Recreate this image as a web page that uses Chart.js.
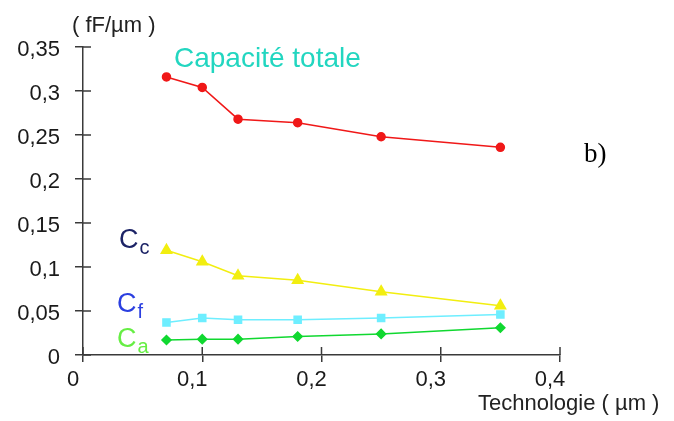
<!DOCTYPE html>
<html>
<head>
<meta charset="utf-8">
<script src="https://cdn.jsdelivr.net/npm/chart.js@4"></script>
<style>
html,body{margin:0;padding:0;background:#fff;}
#wrap{width:674px;height:421px;}
</style>
</head>
<body>
<div id="wrap"><canvas id="c" width="674" height="421"></canvas></div>
<script>
const technology = [0.07, 0.1, 0.13, 0.18, 0.25, 0.35];
const capaciteTotale = [0.316, 0.304, 0.268, 0.264, 0.248, 0.236];
const capaciteCc = [0.119, 0.106, 0.090, 0.085, 0.072, 0.056];
const capaciteCf = [0.037, 0.042, 0.040, 0.040, 0.042, 0.046];
const capaciteCa = [0.017, 0.018, 0.018, 0.021, 0.024, 0.031];

const xTickValues = [0, 0.1, 0.2, 0.3, 0.4];
const xTickLabels = ['0', '0,1', '0,2', '0,3', '0,4'];
const yTickValues = [0, 0.05, 0.1, 0.15, 0.2, 0.25, 0.3, 0.35];
const yTickLabels = ['0', '0,05', '0,1', '0,15', '0,2', '0,25', '0,3', '0,35'];

const toPoints = ys => technology.map((x, i) => ({x: x, y: ys[i]}));
const AXIS = '#3a3a3a';

const decor = {
  id: 'decor',
  afterDraw(chart) {
    const ctx = chart.ctx;
    const xs = chart.scales.x, ys = chart.scales.y;
    ctx.save();
    ctx.strokeStyle = AXIS;
    ctx.lineWidth = 1.5;
    yTickValues.forEach(v => {
      const p = ys.getPixelForValue(v);
      ctx.beginPath(); ctx.moveTo(xs.left, p); ctx.lineTo(xs.left + 8, p); ctx.stroke();
    });
    xTickValues.forEach(v => {
      const p = xs.getPixelForValue(v);
      ctx.beginPath(); ctx.moveTo(p, ys.bottom); ctx.lineTo(p, ys.bottom - 8); ctx.stroke();
    });
    ctx.textBaseline = 'alphabetic';
    ctx.textAlign = 'left';
    ctx.fillStyle = '#222';
    ctx.font = '22px "Liberation Sans", Arial, sans-serif';
    ctx.fillText('( fF/µm )', 72, 32);
    ctx.font = '22px "Liberation Sans", Arial, sans-serif';
    ctx.fillText('Technologie ( µm )', 478, 410);
    ctx.fillStyle = '#22d6c0';
    ctx.font = '28px "Liberation Sans", Arial, sans-serif';
    ctx.fillText('Capacité totale', 174, 67);
    ctx.fillStyle = '#000';
    ctx.font = '27px "Liberation Serif", "Times New Roman", serif';
    ctx.fillText('b)', 584, 162);
    const sub = (main, s, color, x, y, sy) => {
      ctx.fillStyle = color;
      ctx.font = '27px "Liberation Sans", Arial, sans-serif';
      ctx.fillText(main, x, y);
      const w = ctx.measureText(main).width;
      ctx.font = '20px "Liberation Sans", Arial, sans-serif';
      ctx.fillText(s, x + w + 1, sy);
    };
    sub('C', 'c', '#1c2366', 119, 248, 254);
    sub('C', 'f', '#2b3fe0', 117, 312, 318);
    sub('C', 'a', '#66ee44', 117, 347, 353);
    ctx.restore();
  }
};

const tickFont = {family: '"Liberation Sans", Arial, sans-serif', size: 22};

new Chart(document.getElementById('c'), {
  type: 'scatter',
  data: {
    datasets: [
      {label: 'Capacité totale', data: toPoints(capaciteTotale), showLine: true,
       borderColor: '#f01818', backgroundColor: '#f01818', borderWidth: 1.5,
       pointStyle: 'circle', pointRadius: 4, pointHoverRadius: 4},
      {label: 'Cc', data: toPoints(capaciteCc), showLine: true,
       borderColor: '#f2ee10', backgroundColor: '#f2ee10', borderWidth: 1.5,
       pointStyle: 'triangle', pointRadius: 6, pointHoverRadius: 6},
      {label: 'Cf', data: toPoints(capaciteCf), showLine: true,
       borderColor: '#6eeeff', backgroundColor: '#6eeeff', borderWidth: 1.5,
       pointStyle: 'rect', pointRadius: 5, pointHoverRadius: 5},
      {label: 'Ca', data: toPoints(capaciteCa), showLine: true,
       borderColor: '#10d830', backgroundColor: '#10d830', borderWidth: 1.5,
       pointStyle: 'rectRot', pointRadius: 4.5, pointHoverRadius: 4.5}
    ]
  },
  options: {
    responsive: false,
    animation: false,
    devicePixelRatio: 1,
    layout: {padding: {top: 47, right: 114, left: 0, bottom: 0}},
    plugins: {legend: {display: false}, tooltip: {enabled: false}},
    scales: {
      x: {
        type: 'linear', min: 0, max: 0.4,
        afterBuildTicks: s => { s.ticks = xTickValues.map(v => ({value: v})); },
        afterFit: s => { s.height = 66; },
        ticks: {callback: (v, i) => xTickLabels[i], font: tickFont, color: '#1a1a1a',
                padding: 5, labelOffset: -10, maxRotation: 0, autoSkip: false},
        grid: {display: true, drawOnChartArea: false, drawTicks: true, tickLength: 7,
               color: AXIS, lineWidth: 1.5},
        border: {display: true, color: AXIS, width: 1.5}
      },
      y: {
        type: 'linear', min: 0, max: 0.35,
        afterBuildTicks: s => { s.ticks = yTickValues.map(v => ({value: v})); },
        afterFit: s => { s.width = 83; },
        ticks: {callback: (v, i) => yTickLabels[i], font: tickFont, color: '#1a1a1a',
                padding: 15, labelOffset: 3, autoSkip: false},
        grid: {display: true, drawOnChartArea: false, drawTicks: true, tickLength: 8,
               color: AXIS, lineWidth: 1.5},
        border: {display: true, color: AXIS, width: 1.5}
      }
    }
  },
  plugins: [decor]
});
</script>
</body>
</html>
